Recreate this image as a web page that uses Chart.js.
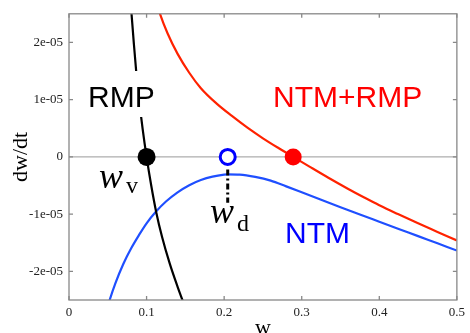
<!DOCTYPE html>
<html>
<head>
<meta charset="utf-8">
<script src="https://cdn.jsdelivr.net/npm/chart.js@4.4.0/dist/chart.umd.min.js"></script>
<style>
  html, body { margin: 0; padding: 0; background: #fff; }
  #wrap { width: 470px; height: 333px; }
</style>
</head>
<body>
<div id="wrap"><canvas id="myChart" width="470" height="333"></canvas></div>
<script>
// axis ticks
const xTicks = [0, 0.1, 0.2, 0.3, 0.4, 0.5];
const xTickLabels = ['0', '0.1', '0.2', '0.3', '0.4', '0.5'];
const yTicks = [-2e-5, -1e-5, 0, 1e-5, 2e-5];
const yTickLabels = ['-2e-05', '-1e-05', '0', '1e-05', '2e-05'];

// RMP curve (black)
const rmpW  = [0.078, 0.0806, 0.0836, 0.0866, 0.09, 0.095, 0.1, 0.106, 0.1125, 0.12, 0.13, 0.14, 0.1462, 0.15];
const rmpDw = [2.9e-5, 2.5e-5, 1.98e-5, 1.5e-5, 1.05e-5, 0.48e-5, 0, -0.5e-5, -0.97e-5, -1.4e-5, -1.87e-5, -2.27e-5, -2.5e-5, -2.64e-5];

// NTM curve (blue)
const ntmW  = [0.048, 0.0524, 0.06, 0.07, 0.08, 0.09, 0.1, 0.1125, 0.125, 0.14, 0.155, 0.17, 0.185, 0.2, 0.2046, 0.22, 0.24, 0.26, 0.28, 0.3, 0.325, 0.35, 0.375, 0.4, 0.425, 0.45, 0.475, 0.5];
const ntmDw = [-2.7e-5, -2.5e-5, -2.2e-5, -1.87e-5, -1.6e-5, -1.37e-5, -1.16e-5, -0.95e-5, -0.78e-5, -0.62e-5, -0.495e-5, -0.405e-5, -0.345e-5, -0.31e-5, -0.305e-5, -0.31e-5, -0.35e-5, -0.415e-5, -0.515e-5, -0.618e-5, -0.748e-5, -0.878e-5, -1.006e-5, -1.132e-5, -1.258e-5, -1.384e-5, -1.51e-5, -1.636e-5];

// NTM+RMP curve (red)
const bothW  = [0.115, 0.1173, 0.127, 0.14, 0.155, 0.17, 0.19, 0.21, 0.23, 0.25, 0.27, 0.289, 0.31, 0.3338, 0.36, 0.38, 0.4, 0.4233, 0.45, 0.475, 0.5];
const bothDw = [2.6e-5, 2.5e-5, 2.16e-5, 1.8e-5, 1.47e-5, 1.2e-5, 0.935e-5, 0.715e-5, 0.51e-5, 0.325e-5, 0.155e-5, 0, -0.17e-5, -0.36e-5, -0.56e-5, -0.705e-5, -0.845e-5, -0.995e-5, -1.16e-5, -1.31e-5, -1.46e-5];

// equilibrium points
const wV = 0.1;
const wD = 0.2046;
const wS = 0.289;

// w_d guide (dash-dot)
const guideDw = [-0.22e-5, -0.8e-5];

const toPts = (xs, ys) => xs.map((x, i) => ({ x: x, y: ys[i] }));

const frame = '#888';

const decorPlugin = {
  id: 'decorPlugin',
  beforeDatasetsDraw(chart) {
    const ctx = chart.ctx;
    const a = chart.chartArea;
    const y0 = chart.scales.y.getPixelForValue(0);
    ctx.save();
    ctx.strokeStyle = '#999';
    ctx.lineWidth = 1;
    ctx.beginPath();
    ctx.moveTo(a.left, y0);
    ctx.lineTo(a.right, y0);
    ctx.stroke();
    ctx.restore();
  },
  afterDatasetsDraw(chart) {
    const ctx = chart.ctx;
    const a = chart.chartArea;
    const xs = chart.scales.x, ys = chart.scales.y;
    ctx.save();

    // frame + inward ticks
    ctx.strokeStyle = frame;
    ctx.lineWidth = 1.3;
    ctx.strokeRect(a.left, a.top, a.right - a.left, a.bottom - a.top);
    ctx.beginPath();
    xTicks.forEach(v => {
      const px = xs.getPixelForValue(v);
      ctx.moveTo(px, a.bottom); ctx.lineTo(px, a.bottom - 4);
      ctx.moveTo(px, a.top); ctx.lineTo(px, a.top + 4);
    });
    yTicks.forEach(v => {
      const py = ys.getPixelForValue(v);
      ctx.moveTo(a.left, py); ctx.lineTo(a.left + 4, py);
      ctx.moveTo(a.right, py); ctx.lineTo(a.right - 4, py);
    });
    ctx.stroke();

    // white box behind "RMP" cuts the black line
    ctx.fillStyle = '#fff';
    ctx.fillRect(84, 71, 74, 46);

    ctx.textBaseline = 'alphabetic';
    ctx.textAlign = 'left';
    ctx.font = "30px 'Liberation Sans', Arial, sans-serif";
    ctx.fillStyle = '#000';
    ctx.fillText('RMP', 88, 107);
    ctx.fillStyle = '#ff0000';
    ctx.fillText('NTM+RMP', 273, 107);
    ctx.fillStyle = '#0000ff';
    ctx.fillText('NTM', 285, 243);

    // w_v and w_d
    ctx.fillStyle = '#000';
    ctx.font = "italic 36px 'Liberation Serif', serif";
    ctx.fillText('w', 99, 188);
    ctx.fillText('w', 210, 223);
    ctx.font = "24px 'Liberation Serif', serif";
    ctx.fillText('v', 126, 193);
    ctx.fillText('d', 237, 231);

    // axis titles
    ctx.font = "22px 'Liberation Serif', serif";
    ctx.textAlign = 'center';
    ctx.fillText('w', (a.left + a.right) / 2, 334);
    ctx.translate(27, (a.top + a.bottom) / 2);
    ctx.rotate(-Math.PI / 2);
    ctx.fillText('dw/dt', 0, 0);
    ctx.restore();
  }
};

const ctx = document.getElementById('myChart').getContext('2d');

new Chart(ctx, {
  type: 'line',
  data: {
    datasets: [
      {
        data: [{ x: wV, y: 0 }],
        showLine: false,
        pointRadius: 9,
        pointBackgroundColor: '#000',
        pointBorderWidth: 0
      },
      {
        data: [{ x: wD, y: 0 }],
        showLine: false,
        pointRadius: 7.5,
        pointBackgroundColor: '#fff',
        pointBorderColor: '#0000ff',
        pointBorderWidth: 3
      },
      {
        data: [{ x: wS, y: 0 }],
        showLine: false,
        pointRadius: 8.5,
        pointBackgroundColor: '#ff0000',
        pointBorderWidth: 0
      },
      {
        data: toPts([wD, wD], guideDw),
        borderColor: '#000',
        borderWidth: 3,
        borderDash: [6, 3, 2, 3],
        pointRadius: 0
      },
      {
        data: toPts(rmpW, rmpDw),
        borderColor: '#000',
        borderWidth: 2.2,
        pointRadius: 0,
        cubicInterpolationMode: 'monotone'
      },
      {
        data: toPts(bothW, bothDw),
        borderColor: '#ff2200',
        borderWidth: 2.2,
        pointRadius: 0,
        cubicInterpolationMode: 'monotone'
      },
      {
        data: toPts(ntmW, ntmDw),
        borderColor: '#1f4fff',
        borderWidth: 2.2,
        pointRadius: 0,
        cubicInterpolationMode: 'monotone'
      }
    ]
  },
  options: {
    responsive: false,
    animation: false,
    events: [],
    layout: { padding: { top: 13, right: 10, left: 0, bottom: 0 } },
    scales: {
      x: {
        type: 'linear',
        min: 0,
        max: 0.5,
        afterFit: s => { s.height = 33; },
        afterBuildTicks: s => { s.ticks = xTicks.map(v => ({ value: v })); },
        grid: { display: false, drawTicks: false },
        border: { display: false },
        ticks: {
          autoSkip: false,
          maxRotation: 0,
          padding: 5,
          color: '#222',
          font: { family: "'Liberation Serif', serif", size: 13 },
          callback: (v, i) => xTickLabels[i]
        }
      },
      y: {
        type: 'linear',
        min: -2.5e-5,
        max: 2.5e-5,
        afterFit: s => { s.width = 69; },
        afterBuildTicks: s => { s.ticks = yTicks.map(v => ({ value: v })); },
        grid: { display: false, drawTicks: false },
        border: { display: false },
        ticks: {
          autoSkip: false,
          padding: 6,
          color: '#222',
          font: { family: "'Liberation Serif', serif", size: 13 },
          callback: (v, i) => yTickLabels[i]
        }
      }
    },
    plugins: {
      legend: { display: false },
      tooltip: { enabled: false },
      title: { display: false }
    }
  },
  plugins: [decorPlugin]
});
</script>
</body>
</html>
